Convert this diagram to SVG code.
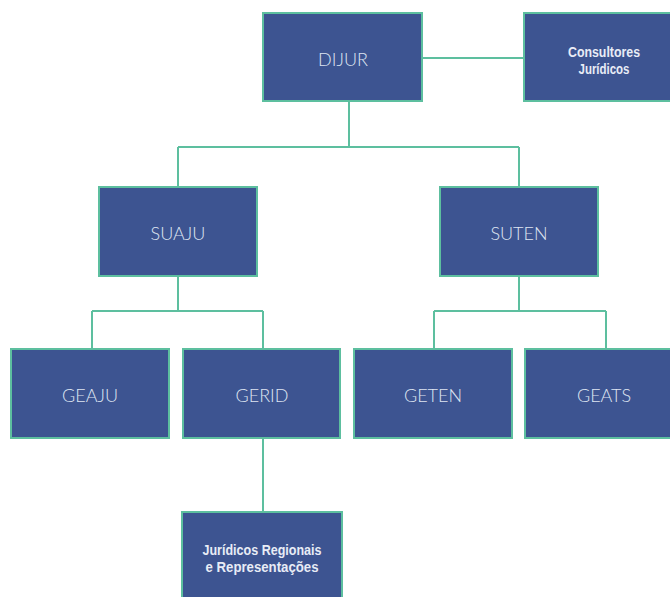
<svg xmlns="http://www.w3.org/2000/svg" width="670" height="597" viewBox="0 0 670 597">
  <style>
    .box { fill: #3d5491; stroke: #5dbf9f; stroke-width: 2; }
    .link { fill: none; stroke: #5dbf9f; stroke-width: 2; }
    .lbl { font-family: Lato, "Liberation Sans", sans-serif; font-weight: 300; font-size: 18px; fill: #dfe5f2; text-anchor: middle; }
    .blbl { font-family: "Liberation Sans", Arial, sans-serif; font-weight: bold; font-size: 14.5px; fill: #e8ecf6; text-anchor: middle; }
  </style>
  <rect width="670" height="597" fill="#ffffff"/>

  <!-- connectors -->
  <g id="connectors">
    <path class="link" d="M422 58 H524"/>
    <path class="link" d="M349 101 V147 M178 147 H519 M178 147 V187 M519 147 V187"/>
    <path class="link" d="M178 276 V311 M92 311 H263 M92 311 V349 M263 311 V349"/>
    <path class="link" d="M519 276 V311 M434 311 H606 M434 311 V349 M606 311 V349"/>
    <path class="link" d="M263 438 V512"/>
  </g>

  <g id="dijur">
    <rect class="box" x="263" y="13" width="159" height="88"/>
    <text class="lbl" x="343" y="66">DIJUR</text>
  </g>
  <g id="consultores">
    <rect class="box" x="524" y="13" width="150" height="88"/>
    <text class="blbl" x="604" y="57" textLength="72" lengthAdjust="spacingAndGlyphs">Consultores</text>
    <text class="blbl" x="604" y="74" textLength="51" lengthAdjust="spacingAndGlyphs">Jurídicos</text>
  </g>
  <g id="suaju">
    <rect class="box" x="99" y="187" width="158" height="89"/>
    <text class="lbl" x="178" y="240">SUAJU</text>
  </g>
  <g id="suten">
    <rect class="box" x="440" y="187" width="158" height="89"/>
    <text class="lbl" x="519" y="240">SUTEN</text>
  </g>
  <g id="geaju">
    <rect class="box" x="11" y="349" width="158" height="89"/>
    <text class="lbl" x="90" y="402">GEAJU</text>
  </g>
  <g id="gerid">
    <rect class="box" x="183" y="349" width="157" height="89"/>
    <text class="lbl" x="262" y="402">GERID</text>
  </g>
  <g id="geten">
    <rect class="box" x="354" y="349" width="158" height="89"/>
    <text class="lbl" x="433" y="402">GETEN</text>
  </g>
  <g id="geats">
    <rect class="box" x="525" y="349" width="150" height="89"/>
    <text class="lbl" x="604" y="402">GEATS</text>
  </g>
  <g id="juridicos-regionais">
    <rect class="box" x="182" y="512" width="160" height="90"/>
    <text class="blbl" x="262" y="555" textLength="119" lengthAdjust="spacingAndGlyphs">Jurídicos Regionais</text>
    <text class="blbl" x="262" y="572" textLength="113" lengthAdjust="spacingAndGlyphs">e Representações</text>
  </g>
</svg>
